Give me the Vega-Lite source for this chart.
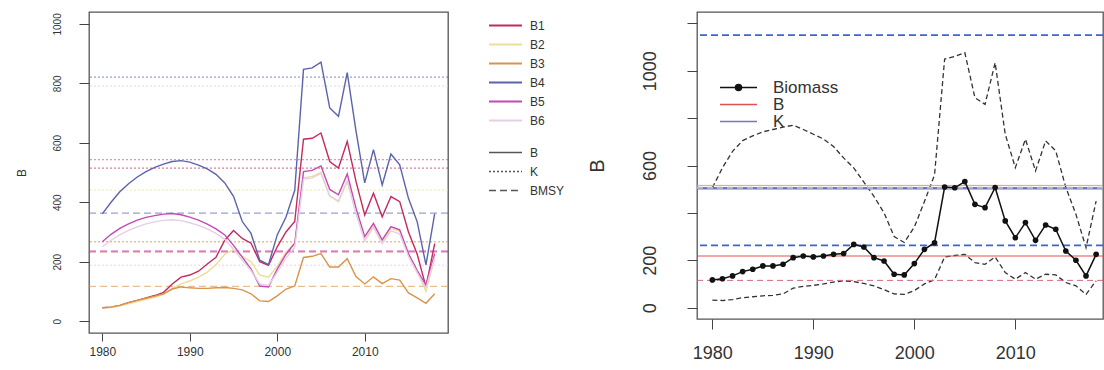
{
  "$schema": "https://vega.github.io/schema/vega-lite/v6.json",
  "padding": {"left": 14, "top": 5, "right": 0, "bottom": 0},
  "background": "white",
  "spacing": 20,
  "resolve": {"scale": {"color": "independent", "strokeDash": "independent", "x": "independent", "y": "independent"}},
  "config": {
    "font": "Liberation Sans",
    "view": {"stroke": "#555", "strokeWidth": 1.3},
    "axis": {"grid": false, "domain": false, "tickColor": "#444", "labelColor": "#333", "titleColor": "#333", "labelFont": "Liberation Sans", "titleFont": "Liberation Sans", "titleFontWeight": "normal"},
    "legend": {"labelFont": "Liberation Sans", "labelColor": "#333"}
  },
  "hconcat": [
    {
      "width": 359,
      "height": 321,
      "title": {"text": " ", "fontSize": 2, "offset": 4},
      "layer": [
        {
          "data": {"values": [
            {"series": "B4", "type": "K", "value": 821},
            {"series": "B6", "type": "K", "value": 791},
            {"series": "B5", "type": "K", "value": 543},
            {"series": "B1", "type": "K", "value": 515},
            {"series": "B2", "type": "K", "value": 441},
            {"series": "B3", "type": "K", "value": 267},
            {"series": "B6", "type": "K", "value": 188},
            {"series": "B4", "type": "BMSY", "value": 363},
            {"series": "B5", "type": "BMSY", "value": 236},
            {"series": "B1", "type": "BMSY", "value": 233},
            {"series": "B3", "type": "BMSY", "value": 117}
          ]},
          "mark": {"type": "rule", "strokeWidth": 1.3, "opacity": 0.6},
          "encoding": {
            "y": {"field": "value", "type": "quantitative",
              "scale": {"domain": [-40, 1040], "nice": false, "zero": false},
              "axis": {"values": [0, 200, 400, 600, 800, 1000], "format": "d", "labelAngle": 270, "labelAlign": "center", "labelBaseline": "bottom", "labelFontSize": 10, "tickSize": 10, "labelPadding": 17, "title": "B", "titleFontSize": 12, "titlePadding": 24}},
            "color": {"field": "series", "type": "nominal",
              "scale": {"domain": ["B1", "B2", "B3", "B4", "B5", "B6"], "range": ["#c42a5e", "#ebdf96", "#d8944a", "#5c63ad", "#c449b4", "#e6cfe6"]},
              "legend": {"title": null, "orient": "none", "legendX": 410, "legendY": 7, "symbolType": "M-3,0L3,0", "symbolSize": 121, "symbolStrokeWidth": 2, "symbolOpacity": 1, "labelFontSize": 12, "labelOffset": 18, "rowPadding": 6, "padding": 0}},
            "strokeDash": {"field": "type", "type": "nominal",
              "scale": {"domain": ["B", "K", "BMSY"], "range": [[1, 0], [2, 2], [7, 4]]},
              "legend": {"title": null, "orient": "none", "legendX": 410, "legendY": 134, "symbolType": "M-3,0L3,0", "symbolSize": 121, "symbolStrokeWidth": 1.5, "symbolStrokeColor": "#555", "symbolOpacity": 1, "labelFontSize": 12, "labelOffset": 18, "rowPadding": 6, "padding": 0}}
          }
        },
        {
          "data": {"values": [
            {"year": 1980, "B1": 45, "B2": 44, "B3": 45, "B4": 361, "B5": 267, "B6": 250},
            {"year": 1981, "B1": 47, "B2": 46, "B3": 47, "B4": 400, "B5": 292, "B6": 272},
            {"year": 1982, "B1": 53, "B2": 51, "B3": 53, "B4": 435, "B5": 312, "B6": 290},
            {"year": 1983, "B1": 62, "B2": 58, "B3": 62, "B4": 462, "B5": 327, "B6": 305},
            {"year": 1984, "B1": 70, "B2": 66, "B3": 70, "B4": 485, "B5": 340, "B6": 317},
            {"year": 1985, "B1": 78, "B2": 73, "B3": 77, "B4": 503, "B5": 349, "B6": 327},
            {"year": 1986, "B1": 86, "B2": 80, "B3": 84, "B4": 517, "B5": 355, "B6": 334},
            {"year": 1987, "B1": 97, "B2": 90, "B3": 92, "B4": 528, "B5": 360, "B6": 339},
            {"year": 1988, "B1": 125, "B2": 110, "B3": 108, "B4": 537, "B5": 362, "B6": 341},
            {"year": 1989, "B1": 148, "B2": 125, "B3": 115, "B4": 540, "B5": 358, "B6": 338},
            {"year": 1990, "B1": 155, "B2": 135, "B3": 112, "B4": 535, "B5": 350, "B6": 331},
            {"year": 1991, "B1": 168, "B2": 148, "B3": 110, "B4": 525, "B5": 340, "B6": 322},
            {"year": 1992, "B1": 192, "B2": 165, "B3": 110, "B4": 512, "B5": 326, "B6": 310},
            {"year": 1993, "B1": 215, "B2": 190, "B3": 112, "B4": 494, "B5": 310, "B6": 295},
            {"year": 1994, "B1": 272, "B2": 225, "B3": 113, "B4": 465, "B5": 290, "B6": 275},
            {"year": 1995, "B1": 305, "B2": 240, "B3": 110, "B4": 420, "B5": 255, "B6": 242},
            {"year": 1996, "B1": 278, "B2": 218, "B3": 105, "B4": 335, "B5": 215, "B6": 205},
            {"year": 1997, "B1": 262, "B2": 200, "B3": 92, "B4": 295, "B5": 175, "B6": 170},
            {"year": 1998, "B1": 200, "B2": 155, "B3": 68, "B4": 205, "B5": 118, "B6": 125},
            {"year": 1999, "B1": 188, "B2": 148, "B3": 66, "B4": 190, "B5": 115, "B6": 120},
            {"year": 2000, "B1": 250, "B2": 185, "B3": 85, "B4": 290, "B5": 175, "B6": 165},
            {"year": 2001, "B1": 300, "B2": 232, "B3": 108, "B4": 350, "B5": 225, "B6": 212},
            {"year": 2002, "B1": 335, "B2": 262, "B3": 118, "B4": 440, "B5": 262, "B6": 248},
            {"year": 2003, "B1": 612, "B2": 482, "B3": 214, "B4": 847, "B5": 503, "B6": 478},
            {"year": 2004, "B1": 615, "B2": 487, "B3": 218, "B4": 852, "B5": 507, "B6": 482},
            {"year": 2005, "B1": 633, "B2": 500, "B3": 227, "B4": 871, "B5": 522, "B6": 497},
            {"year": 2006, "B1": 537, "B2": 422, "B3": 182, "B4": 717, "B5": 443, "B6": 420},
            {"year": 2007, "B1": 515, "B2": 402, "B3": 182, "B4": 689, "B5": 425, "B6": 404},
            {"year": 2008, "B1": 605, "B2": 470, "B3": 210, "B4": 836, "B5": 495, "B6": 472},
            {"year": 2009, "B1": 470, "B2": 365, "B3": 150, "B4": 640, "B5": 380, "B6": 362},
            {"year": 2010, "B1": 357, "B2": 272, "B3": 125, "B4": 465, "B5": 284, "B6": 270},
            {"year": 2011, "B1": 430, "B2": 322, "B3": 149, "B4": 577, "B5": 329, "B6": 315},
            {"year": 2012, "B1": 351, "B2": 265, "B3": 126, "B4": 458, "B5": 273, "B6": 260},
            {"year": 2013, "B1": 419, "B2": 312, "B3": 143, "B4": 562, "B5": 318, "B6": 304},
            {"year": 2014, "B1": 402, "B2": 302, "B3": 138, "B4": 526, "B5": 307, "B6": 293},
            {"year": 2015, "B1": 300, "B2": 226, "B3": 95, "B4": 413, "B5": 227, "B6": 218},
            {"year": 2016, "B1": 225, "B2": 168, "B3": 78, "B4": 334, "B5": 170, "B6": 163},
            {"year": 2017, "B1": 115, "B2": 100, "B3": 60, "B4": 189, "B5": 121, "B6": 112},
            {"year": 2018, "B1": 261, "B2": 212, "B3": 92, "B4": 362, "B5": 227, "B6": 215}
          ]},
          "transform": [{"fold": ["B1", "B2", "B3", "B4", "B5", "B6"], "as": ["series", "value"]}],
          "mark": {"type": "line", "strokeWidth": 1.4},
          "encoding": {
            "x": {"field": "year", "type": "quantitative",
              "scale": {"domain": [1978.48, 2019.52], "nice": false, "zero": false},
              "axis": {"values": [1980, 1990, 2000, 2010], "format": "d", "title": null, "labelFontSize": 12, "tickSize": 8, "labelPadding": 5}},
            "y": {"field": "value", "type": "quantitative"},
            "color": {"field": "series", "type": "nominal"}
          }
        }
      ]
    },
    {
      "width": 406,
      "height": 307,
      "layer": [
        {
          "data": {"name": "bio"},
          "mark": {"type": "line", "strokeDash": [5, 3], "color": "#333", "strokeWidth": 1.3},
          "encoding": {
            "x": {"field": "year", "type": "quantitative",
              "scale": {"domain": [1978.48, 2018.68], "nice": false, "zero": false},
              "axis": {"values": [1980, 1990, 2000, 2010], "format": "d", "title": null, "labelFontSize": 18, "tickSize": 10, "labelPadding": 15}},
            "y": {"field": "upper", "type": "quantitative",
              "scale": {"domain": [-48, 1248], "nice": false, "zero": false},
              "axis": {"values": [0, 200, 400, 600, 800, 1000, 1200], "format": "d", "labelExpr": "datum.value == 400 || datum.value == 800 || datum.value == 1200 ? '' : datum.label", "labelAngle": 270, "labelAlign": "center", "labelBaseline": "bottom", "labelFontSize": 18, "tickSize": 10, "labelPadding": 28, "title": "B", "titleFontSize": 20, "titlePadding": 34}}
          }
        },
        {
          "data": {"name": "bio"},
          "mark": {"type": "line", "strokeDash": [5, 3], "color": "#333", "strokeWidth": 1.3},
          "encoding": {
            "x": {"field": "year", "type": "quantitative"},
            "y": {"field": "lower", "type": "quantitative"}
          }
        },
        {
          "data": {"name": "refs"},
          "transform": [{"filter": "datum.name == 'K_upper' || datum.name == 'BMSY_upper'"}],
          "mark": {"type": "rule", "strokeDash": [7, 4], "color": "#3f64d2", "strokeWidth": 1.8},
          "encoding": {"y": {"field": "value", "type": "quantitative"}}
        },
        {
          "data": {"name": "refs"},
          "transform": [{"filter": "datum.name == 'K_alt'"}],
          "mark": {"type": "rule", "color": "#e99a9a", "strokeWidth": 1},
          "encoding": {"y": {"field": "value", "type": "quantitative"}}
        },
        {
          "data": {"name": "refs"},
          "transform": [{"filter": "datum.name == 'BMSY_lower'"}],
          "mark": {"type": "rule", "strokeDash": [6, 4], "color": "#d46a7a", "strokeWidth": 1},
          "encoding": {"y": {"field": "value", "type": "quantitative"}}
        },
        {
          "data": {"name": "refs"},
          "transform": [{"filter": "datum.name == 'K'"}],
          "mark": {"type": "rule", "strokeWidth": 2.5},
          "encoding": {
            "y": {"field": "value", "type": "quantitative"},
            "color": {"datum": "K", "type": "nominal",
              "scale": {"domain": ["Biomass", "B", "K"], "range": ["#111111", "#e0524f", "#7474cc"]},
              "legend": {"title": null, "orient": "none", "legendX": 33, "legendY": 67, "symbolType": "M-3.7,0L3.7,0", "symbolSize": 100, "symbolStrokeWidth": 1.5, "symbolOpacity": 1, "labelFontSize": 17, "labelOffset": 26, "rowPadding": -2, "padding": 0,
                "encode": {"symbols": {"update": {
                  "shape": {"signal": "datum.value == 'Biomass' ? 'M-3.7,0L3.7,0M-0.6,0A0.6,0.6,0,1,1,0.6,0A0.6,0.6,0,1,1,-0.6,0Z' : 'M-3.7,0L3.7,0'"},
                  "fill": {"signal": "datum.value == 'Biomass' ? '#111111' : 'transparent'"}
                }}}}}
          }
        },
        {
          "data": {"name": "refs"},
          "transform": [{"filter": "datum.name == 'K_est'"}],
          "mark": {"type": "rule", "strokeDash": [6, 4], "color": "#b8b8b8", "strokeWidth": 2},
          "encoding": {"y": {"field": "value", "type": "quantitative"}}
        },
        {
          "data": {"name": "refs"},
          "transform": [{"filter": "datum.name == 'B'"}],
          "mark": {"type": "rule", "strokeWidth": 1.1},
          "encoding": {
            "y": {"field": "value", "type": "quantitative"},
            "color": {"datum": "B", "type": "nominal"}
          }
        },
        {
          "data": {"name": "bio"},
          "mark": {"type": "line", "strokeWidth": 1.5, "point": {"filled": true, "size": 32, "color": "#111111"}},
          "encoding": {
            "x": {"field": "year", "type": "quantitative"},
            "y": {"field": "biomass", "type": "quantitative"},
            "color": {"datum": "Biomass", "type": "nominal"}
          }
        }
      ]
    }
  ],
  "datasets": {
    "refs": [
      {"name": "K_upper", "value": 1150},
      {"name": "K_alt", "value": 516},
      {"name": "K", "value": 504},
      {"name": "K_est", "value": 506},
      {"name": "BMSY_upper", "value": 263},
      {"name": "B", "value": 218},
      {"name": "BMSY_lower", "value": 115}
    ],
    "bio": [
      {"year": 1980, "biomass": 117, "upper": 506, "lower": 32},
      {"year": 1981, "biomass": 122, "upper": 590, "lower": 30},
      {"year": 1982, "biomass": 134, "upper": 660, "lower": 34},
      {"year": 1983, "biomass": 152, "upper": 705, "lower": 42},
      {"year": 1984, "biomass": 162, "upper": 725, "lower": 46},
      {"year": 1985, "biomass": 176, "upper": 742, "lower": 50},
      {"year": 1986, "biomass": 176, "upper": 752, "lower": 52},
      {"year": 1987, "biomass": 183, "upper": 762, "lower": 58},
      {"year": 1988, "biomass": 211, "upper": 770, "lower": 82},
      {"year": 1989, "biomass": 218, "upper": 752, "lower": 90},
      {"year": 1990, "biomass": 214, "upper": 732, "lower": 94},
      {"year": 1991, "biomass": 218, "upper": 712, "lower": 100},
      {"year": 1992, "biomass": 225, "upper": 680, "lower": 108},
      {"year": 1993, "biomass": 228, "upper": 632, "lower": 113},
      {"year": 1994, "biomass": 267, "upper": 590, "lower": 110},
      {"year": 1995, "biomass": 256, "upper": 530, "lower": 102},
      {"year": 1996, "biomass": 211, "upper": 470, "lower": 92},
      {"year": 1997, "biomass": 197, "upper": 400, "lower": 76},
      {"year": 1998, "biomass": 141, "upper": 300, "lower": 58},
      {"year": 1999, "biomass": 138, "upper": 275, "lower": 56},
      {"year": 2000, "biomass": 186, "upper": 340, "lower": 72},
      {"year": 2001, "biomass": 246, "upper": 448, "lower": 100},
      {"year": 2002, "biomass": 274, "upper": 560, "lower": 118},
      {"year": 2003, "biomass": 509, "upper": 1050, "lower": 214},
      {"year": 2004, "biomass": 506, "upper": 1060, "lower": 220},
      {"year": 2005, "biomass": 532, "upper": 1076, "lower": 225},
      {"year": 2006, "biomass": 436, "upper": 886, "lower": 190},
      {"year": 2007, "biomass": 422, "upper": 858, "lower": 183},
      {"year": 2008, "biomass": 507, "upper": 1034, "lower": 214},
      {"year": 2009, "biomass": 366, "upper": 732, "lower": 148},
      {"year": 2010, "biomass": 295, "upper": 591, "lower": 120},
      {"year": 2011, "biomass": 359, "upper": 711, "lower": 148},
      {"year": 2012, "biomass": 284, "upper": 577, "lower": 120},
      {"year": 2013, "biomass": 349, "upper": 704, "lower": 141},
      {"year": 2014, "biomass": 331, "upper": 662, "lower": 138},
      {"year": 2015, "biomass": 239, "upper": 507, "lower": 106},
      {"year": 2016, "biomass": 200, "upper": 394, "lower": 92},
      {"year": 2017, "biomass": 134, "upper": 253, "lower": 56},
      {"year": 2018, "biomass": 225, "upper": 450, "lower": 113}
    ]
  }
}
